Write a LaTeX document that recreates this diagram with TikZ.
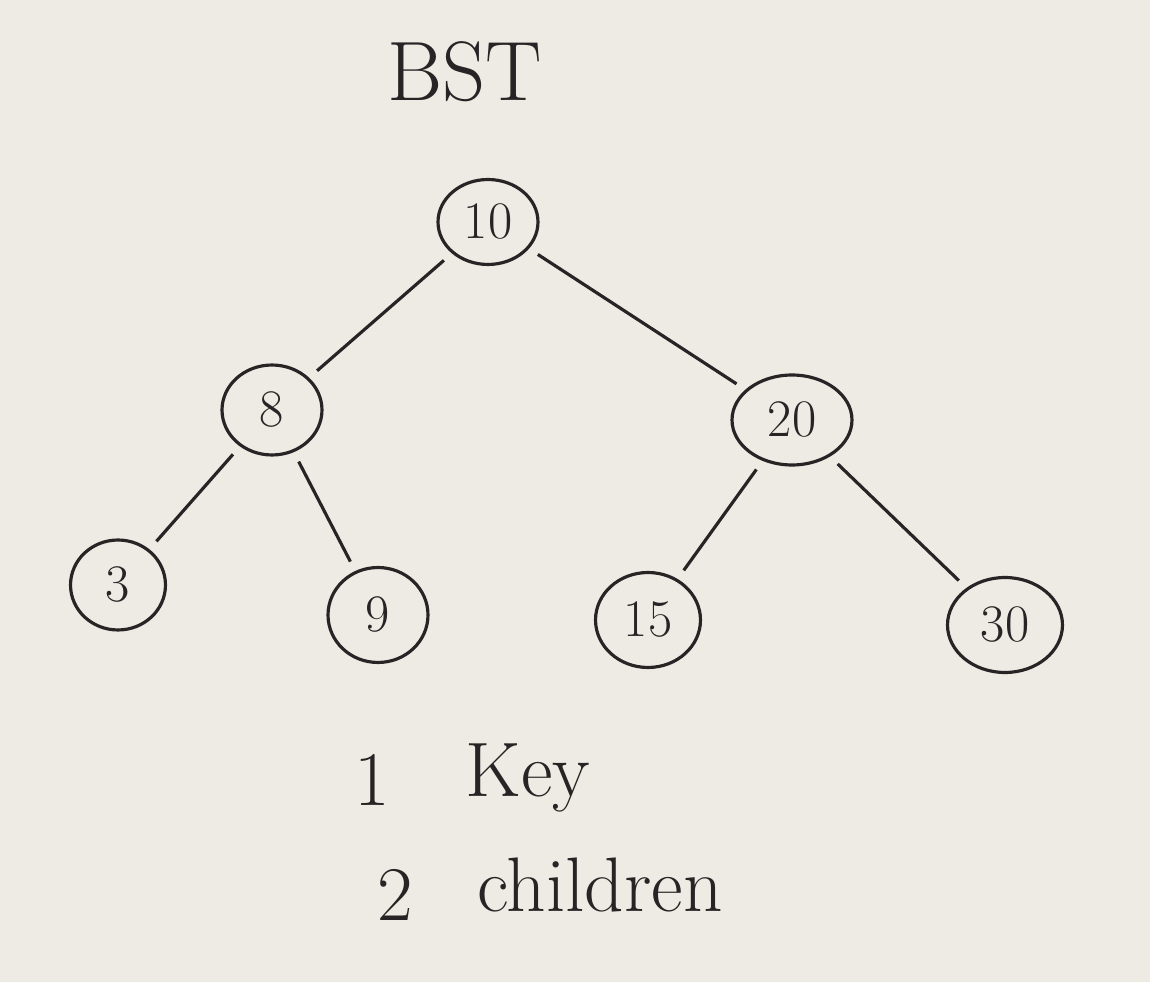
\documentclass[tikz,border=0pt]{standalone}
\usepackage{fontspec}
\usetikzlibrary{shapes.geometric}
\definecolor{board}{RGB}{238,234,228}
\definecolor{ink}{RGB}{38,36,36}
\tikzset{
  key/.style={ellipse,draw=ink,line width=1.8pt,text=ink,font=\fontsize{30}{34}\selectfont},
  edge/.style={draw=ink,line width=1.8pt,shorten <=6pt,shorten >=6pt},
  note/.style={text=ink,font=\fontsize{44}{50}\selectfont}
}
\begin{document}
\begin{tikzpicture}[x=0.02cm,y=-0.02cm]
		% background
		\fill[board] (0,0) rectangle (1150,982);
		\useasboundingbox (0,0) rectangle (1150,982);
		% Place nodes
		\node [note,font=\fontsize{48}{54}\selectfont] (title) at (465,72) {BST};
		\node [key,minimum width=2cm,minimum height=1.7cm] (n10) at (488,222) {10};
		\node [key,minimum width=2cm,minimum height=1.8cm] (n8) at (272,410) {8};
		\node [key,minimum width=2.4cm,minimum height=1.8cm] (n20) at (792,420) {20};
		\node [key,minimum width=1.9cm,minimum height=1.8cm] (n3) at (118,585) {3};
		\node [key,minimum width=2cm,minimum height=1.9cm] (n9) at (378,615) {9};
		\node [key,minimum width=2.1cm,minimum height=1.9cm] (n15) at (648,620) {15};
		\node [key,minimum width=2.3cm,minimum height=1.9cm] (n30) at (1005,625) {30};
		% Edges
		\draw [edge] (n10) -- (n8);
		\draw [edge] (n10) -- (n20);
		\draw [edge] (n8) -- (n3);
		\draw [edge] (n8) -- (n9);
		\draw [edge] (n20) -- (n15);
		\draw [edge] (n20) -- (n30);
		% Notes
		\node [note] (one) at (372,780) {1};
		\node [note] (keytxt) at (528,778) {Key};
		\node [note] (two) at (395,895) {2};
		\node [note] (children) at (600,885) {children};
\end{tikzpicture}
\end{document}
